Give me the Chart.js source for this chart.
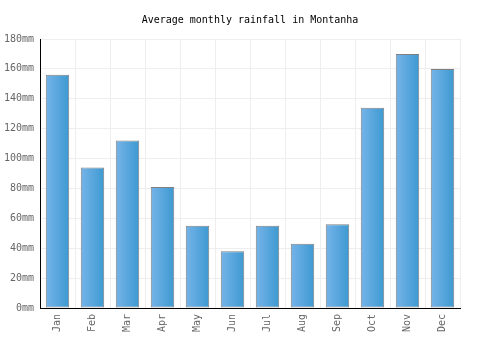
<!DOCTYPE html>
<html>
<head>
<meta charset="utf-8">
<script src="https://cdn.jsdelivr.net/npm/chart.js@4"></script>
<style>
  html, body { margin: 0; padding: 0; background: #fff; }
  #wrap { width: 500px; height: 350px; }
</style>
</head>
<body>
<div id="wrap"><canvas id="chart" width="500" height="350"></canvas></div>
<script>
const months = ['Jan', 'Feb', 'Mar', 'Apr', 'May', 'Jun', 'Jul', 'Aug', 'Sep', 'Oct', 'Nov', 'Dec'];
const rainfall = [156, 94, 112, 81, 55, 38, 55, 43, 56, 134, 170, 160];
const yTicks = [0, 20, 40, 60, 80, 100, 120, 140, 160, 180];
const titleText = 'Average monthly rainfall in Montanha';

const FONT = "'DejaVu Sans Mono', monospace";

// gradient per bar, light on the left, darker on the right
const barGradient = context => {
  const chart = context.chart;
  const xScale = chart.scales.x;
  if (!xScale || !chart.chartArea || context.dataIndex === undefined) return '#5aa6dc';
  const cx = xScale.getPixelForValue(context.dataIndex);
  if (!Number.isFinite(cx)) return '#5aa6dc';
  const half = 12;
  const g = chart.ctx.createLinearGradient(cx - half, 0, cx + half, 0);
  g.addColorStop(0, '#76b4e9');
  g.addColorStop(1, '#3c99d1');
  return g;
};

// title centred on the whole canvas, not on the padded box
const canvasTitle = {
  id: 'canvasTitle',
  afterDraw(chart) {
    const ctx = chart.ctx;
    ctx.save();
    ctx.font = '10px ' + FONT;
    ctx.fillStyle = '#000';
    ctx.textAlign = 'center';
    ctx.textBaseline = 'middle';
    ctx.fillText(titleText, chart.width / 2, 20);
    ctx.restore();
  }
};

new Chart(document.getElementById('chart'), {
  type: 'bar',
  data: {
    labels: months,
    datasets: [{
      data: rainfall,
      backgroundColor: barGradient,
      borderColor: '#808080',
      borderWidth: 1,
      borderSkipped: false,
      categoryPercentage: 1,
      barPercentage: 0.67
    }]
  },
  plugins: [canvasTitle],
  options: {
    responsive: false,
    animation: false,
    layout: { padding: { top: 39, right: 40, bottom: 0, left: 0 } },
    plugins: {
      legend: { display: false },
      tooltip: { enabled: false },
      title: { display: false }
    },
    scales: {
      x: {
        grid: { color: '#eeeeee', offset: true, drawTicks: false },
        border: { color: '#000', width: 1 },
        ticks: {
          color: '#666',
          font: { family: FONT, size: 10 },
          maxRotation: 90,
          minRotation: 90,
          padding: 6
        },
        afterFit: s => { s.height = 42; }
      },
      y: {
        min: 0,
        max: 180,
        afterBuildTicks: s => { s.ticks = yTicks.map(v => ({ value: v })); },
        grid: { color: '#eeeeee', drawTicks: false },
        border: { color: '#000', width: 1 },
        ticks: {
          color: '#666',
          font: { family: FONT, size: 10 },
          padding: 6,
          callback: v => v + 'mm'
        },
        afterFit: s => { s.width = 40; }
      }
    }
  }
});
</script>
</body>
</html>
